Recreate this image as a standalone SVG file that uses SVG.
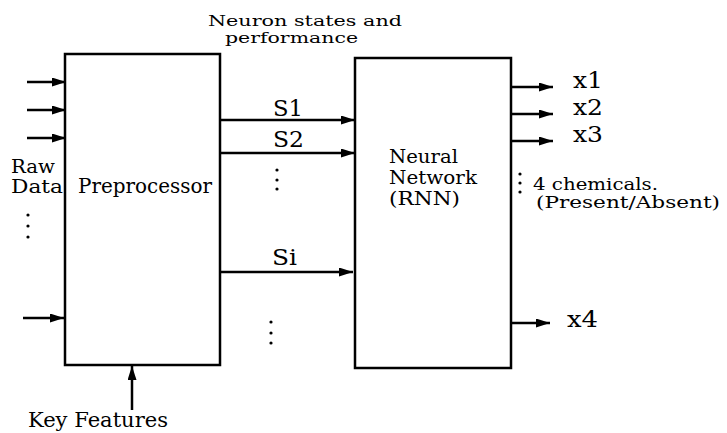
<svg xmlns="http://www.w3.org/2000/svg" width="727" height="433" viewBox="0 0 727 433">
<style>
.box{fill:#fff;stroke:#000;stroke-width:2.5}
.ln{stroke:#000;stroke-width:2.5;fill:none;marker-end:url(#ah)}
text{font-family:'DejaVu Serif','Liberation Serif','Noto Serif',Times,serif;fill:#000}
.dot{fill:#000}
</style>
<defs>
<marker id="ah" markerUnits="userSpaceOnUse" markerWidth="14" markerHeight="9" refX="14" refY="4.5" orient="auto">
<path d="M0,0 L14,4.5 L0,9 z" fill="#000"/>
</marker>
</defs>
<rect width="727" height="433" fill="#fff"/>
<g id="connectors">
<line class="ln" x1="27" y1="82" x2="66" y2="82"/>
<line class="ln" x1="27" y1="110" x2="66" y2="110"/>
<line class="ln" x1="27" y1="138" x2="66" y2="138"/>
<line class="ln" x1="23" y1="318" x2="64" y2="318"/>
<line class="ln" x1="132" y1="410" x2="132" y2="366"/>
<line class="ln" x1="220" y1="120" x2="355" y2="120"/>
<line class="ln" x1="220" y1="153" x2="355" y2="153"/>
<line class="ln" x1="218" y1="272" x2="353" y2="272"/>
<line class="ln" x1="512" y1="87" x2="553" y2="87"/>
<line class="ln" x1="512" y1="114" x2="553" y2="114"/>
<line class="ln" x1="512" y1="141" x2="553" y2="141"/>
<line class="ln" x1="509" y1="323" x2="550" y2="323"/>
</g>
<g id="preprocessor">
<rect class="box" x="65" y="54" width="155" height="311"/>
<text x="78" y="193" font-size="21" textLength="134" lengthAdjust="spacingAndGlyphs">Preprocessor</text>
</g>
<g id="neural-network">
<rect class="box" x="355" y="58" width="156" height="310"/>
<text x="389" y="163" font-size="18" textLength="69" lengthAdjust="spacingAndGlyphs">Neural</text>
<text x="389" y="184" font-size="18" textLength="88" lengthAdjust="spacingAndGlyphs">Network</text>
<text x="389" y="205" font-size="18" textLength="71" lengthAdjust="spacingAndGlyphs">(RNN)</text>
</g>
<g id="raw-data">
<text x="11" y="173" font-size="18" textLength="44" lengthAdjust="spacingAndGlyphs">Raw</text>
<text x="11" y="193" font-size="18" textLength="52" lengthAdjust="spacingAndGlyphs">Data</text>
<circle class="dot" cx="28" cy="215" r="1.6"/>
<circle class="dot" cx="28" cy="226" r="1.6"/>
<circle class="dot" cx="28" cy="237" r="1.6"/>
</g>
<g id="key-features">
<text x="28" y="427" font-size="20" textLength="140" lengthAdjust="spacingAndGlyphs">Key Features</text>
</g>
<g id="neuron-states-label">
<text x="208" y="26" font-size="15" textLength="194" lengthAdjust="spacingAndGlyphs">Neuron states and</text>
<text x="225" y="43" font-size="15" textLength="133" lengthAdjust="spacingAndGlyphs">performance</text>
</g>
<g id="signals">
<text x="273" y="116" font-size="23" textLength="30" lengthAdjust="spacingAndGlyphs">S1</text>
<text x="273" y="147" font-size="23" textLength="31" lengthAdjust="spacingAndGlyphs">S2</text>
<circle class="dot" cx="277" cy="170" r="1.6"/>
<circle class="dot" cx="277" cy="180" r="1.6"/>
<circle class="dot" cx="277" cy="189" r="1.6"/>
<text x="272" y="265" font-size="23" textLength="25" lengthAdjust="spacingAndGlyphs">Si</text>
<circle class="dot" cx="271" cy="322" r="1.6"/>
<circle class="dot" cx="271" cy="333" r="1.6"/>
<circle class="dot" cx="271" cy="343" r="1.6"/>
</g>
<g id="outputs">
<text x="573" y="88" font-size="23" textLength="30" lengthAdjust="spacingAndGlyphs">x1</text>
<text x="573" y="115" font-size="23" textLength="30" lengthAdjust="spacingAndGlyphs">x2</text>
<text x="573" y="142" font-size="23" textLength="30" lengthAdjust="spacingAndGlyphs">x3</text>
<text x="567" y="327" font-size="23" textLength="31" lengthAdjust="spacingAndGlyphs">x4</text>
<circle class="dot" cx="520" cy="174" r="1.6"/>
<circle class="dot" cx="520" cy="183" r="1.6"/>
<circle class="dot" cx="520" cy="192" r="1.6"/>
<text x="533" y="190" font-size="17" textLength="125" lengthAdjust="spacingAndGlyphs">4 chemicals.</text>
<text x="536" y="208" font-size="17" textLength="184" lengthAdjust="spacingAndGlyphs">(Present/Absent)</text>
</g>
</svg>
